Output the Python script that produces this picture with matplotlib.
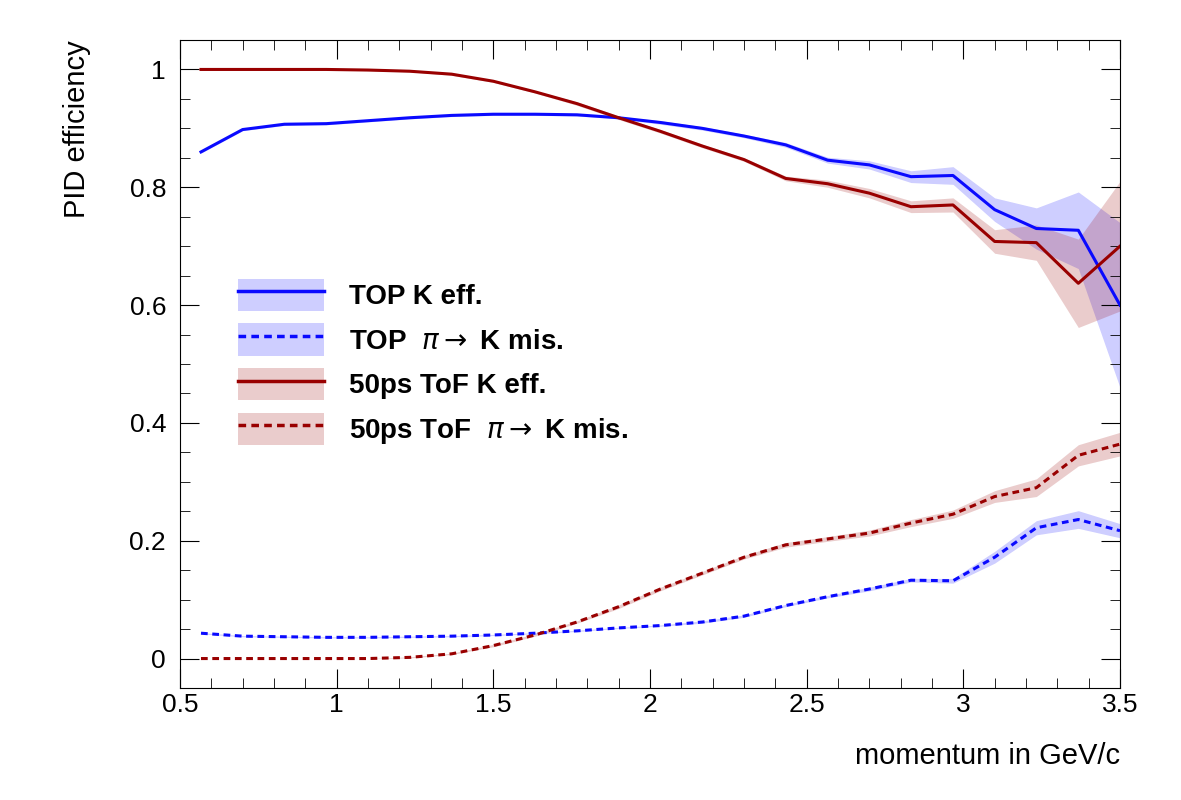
import numpy as np
import matplotlib
matplotlib.use("Agg")
import matplotlib.pyplot as plt
from matplotlib.patches import Patch
from matplotlib.lines import Line2D
from matplotlib.ticker import MultipleLocator, FuncFormatter

plt.rcParams["font.family"] = "Liberation Sans"

momentum = [0.567, 0.7, 0.833, 0.967, 1.1, 1.233, 1.367, 1.5, 1.633, 1.767, 1.9, 2.033,
            2.167, 2.3, 2.433, 2.567, 2.7, 2.833, 2.967, 3.1, 3.233, 3.367, 3.5]

top_eff = [0.86, 0.898, 0.907, 0.908, 0.913, 0.918, 0.922, 0.924, 0.924, 0.923, 0.918, 0.91,
           0.90, 0.887, 0.872, 0.846, 0.838, 0.818, 0.82, 0.762, 0.73, 0.727, 0.60]
top_eff_err = [0.002, 0.002, 0.002, 0.002, 0.002, 0.002, 0.002, 0.002, 0.002, 0.002, 0.002, 0.003,
               0.003, 0.003, 0.004, 0.005, 0.007, 0.01, 0.015, 0.02, 0.035, 0.065, 0.14]
tof_eff = [1.0, 1.0, 1.0, 1.0, 0.999, 0.997, 0.992, 0.98, 0.962, 0.942, 0.918, 0.895,
           0.87, 0.847, 0.815, 0.806, 0.79, 0.767, 0.77, 0.708, 0.706, 0.637, 0.70]
tof_eff_err = [0.001, 0.001, 0.001, 0.001, 0.001, 0.001, 0.002, 0.002, 0.002, 0.003, 0.003, 0.003,
               0.003, 0.003, 0.004, 0.006, 0.008, 0.01, 0.012, 0.02, 0.03, 0.075, 0.11]
top_mis = [0.043, 0.038, 0.037, 0.036, 0.036, 0.037, 0.038, 0.04, 0.043, 0.047, 0.052, 0.056,
           0.062, 0.072, 0.09, 0.105, 0.118, 0.133, 0.132, 0.172, 0.222, 0.236, 0.217]
top_mis_err = [0.001, 0.001, 0.001, 0.001, 0.001, 0.001, 0.001, 0.001, 0.001, 0.001, 0.001, 0.001,
               0.002, 0.002, 0.002, 0.002, 0.003, 0.003, 0.004, 0.01, 0.012, 0.015, 0.012]
tof_mis = [0.0, 0.0, 0.0, 0.0, 0.0, 0.002, 0.008, 0.022, 0.04, 0.062, 0.088, 0.118,
           0.145, 0.172, 0.193, 0.203, 0.213, 0.23, 0.245, 0.275, 0.29, 0.345, 0.364]
tof_mis_err = [0.0, 0.0, 0.0, 0.0, 0.0, 0.001, 0.001, 0.002, 0.002, 0.002, 0.003, 0.003,
               0.003, 0.003, 0.004, 0.004, 0.005, 0.006, 0.007, 0.01, 0.015, 0.018, 0.02]

blue = "#0a0aff"
red = "#990000"
dashed = (0, (2.2, 1.5))

fig = plt.figure(figsize=(11.81, 8.0), dpi=100)
ax = fig.add_axes([180 / 1181, 112 / 800, 940 / 1181, 648 / 800])

x = np.array(momentum)
series = [(top_eff, top_eff_err, blue, "-"), (top_mis, top_mis_err, blue, dashed),
          (tof_eff, tof_eff_err, red, "-"), (tof_mis, tof_mis_err, red, dashed)]
for y, e, c, ls in series:
    y = np.array(y); e = np.array(e)
    ax.fill_between(x, y - e, y + e, color=c, alpha=0.2, lw=0)
    ax.plot(x, y, color=c, ls=ls, lw=2.2)

ax.set_xlim(0.5, 3.5)
ax.set_ylim(-0.05, 1.05)
ax.xaxis.set_major_locator(MultipleLocator(0.5))
ax.xaxis.set_minor_locator(MultipleLocator(0.1))
ax.yaxis.set_major_locator(MultipleLocator(0.2))
ax.yaxis.set_minor_locator(MultipleLocator(0.05))
fmt = FuncFormatter(lambda v, p: "%g" % round(v, 3))
ax.xaxis.set_major_formatter(fmt)
ax.yaxis.set_major_formatter(fmt)
ax.tick_params(which="both", direction="in", top=True, right=True, labelsize=19)
ax.tick_params(which="major", length=14)
ax.tick_params(which="minor", length=7)
ax.tick_params(axis="y", pad=10)
ax.set_xlabel("momentum in GeV/c", fontsize=21, loc="right", labelpad=18)
ax.set_ylabel("PID efficiency", fontsize=21, loc="top", labelpad=28)

labels = ["TOP K eff.", r"TOP  $\pi$$\rightarrow$ K mis.", "50ps ToF K eff.",
          r"50ps ToF  $\pi$$\rightarrow$ K mis."]
handles = []
for (_, _, c, ls) in series:
    handles.append((Patch(facecolor=c, alpha=0.2, lw=0), Line2D([], [], color=c, ls=ls, lw=2.5)))
ax.legend(handles, labels, loc="upper left", bbox_to_anchor=(0.035, 0.67), frameon=False,
          prop={"weight": "bold", "size": 20}, handlelength=3.1, handleheight=1.4,
          handletextpad=0.9, labelspacing=0.45)

fig.savefig("out.png", dpi=100)
